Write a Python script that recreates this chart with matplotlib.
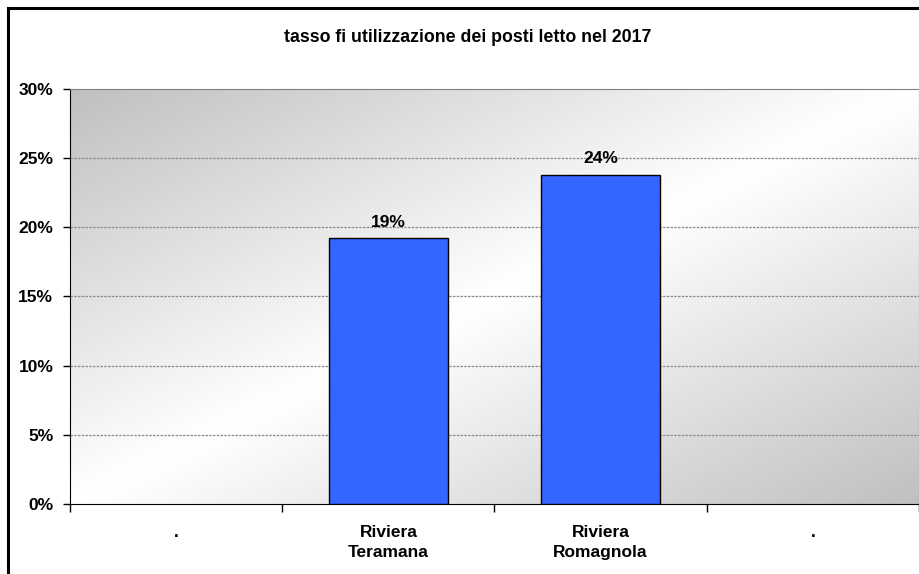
import numpy as np
import matplotlib.pyplot as plt
from matplotlib.lines import Line2D
from matplotlib.ticker import PercentFormatter

# Dati
categorie = ['.', 'Riviera\nTeramana', 'Riviera\nRomagnola', '.']
tasso = [np.nan, 0.192, 0.238, np.nan]  # tasso di utilizzo posti letto
etichette = ['', '19%', '24%', '']

plt.rcParams['font.family'] = ['Liberation Sans', 'DejaVu Sans']
plt.rcParams['font.weight'] = 'bold'

W, H = 920, 574
fig = plt.figure(figsize=(W / 100, H / 100), dpi=100)
ax = fig.add_axes([70 / W, (H - 504) / H, (919 - 70) / W, (504 - 89) / H])

x = np.arange(len(categorie))
ax.set_xlim(-0.5, len(categorie) - 0.5)
ax.set_ylim(0, 0.30)

# sfondo sfumato in diagonale: grigio in alto a sinistra e in basso a destra
u = np.linspace(0, 1, 300)
uu, vv = np.meshgrid(u, u)
s = np.abs((uu + vv) - 1.0)
grigio = 1.0 - 0.25 * s
ax.imshow(grigio, cmap='gray', vmin=0, vmax=1, origin='upper',
          extent=[-0.5, len(categorie) - 0.5, 0, 0.30],
          aspect='auto', zorder=0, interpolation='bilinear')
ax.set_ylim(0, 0.30)

# griglia
for yv in np.arange(0.05, 0.30, 0.05):
    ax.axhline(yv, color='#8a8a8a', lw=0.9, ls=(0, (2, 1)), zorder=1)

barre = ax.bar(x, tasso, width=0.56, color='#3366FF', edgecolor='black', linewidth=1, zorder=3)
for xi, v, t in zip(x, tasso, etichette):
    if t:
        ax.text(xi, v + 0.006, t, ha='center', va='bottom', fontsize=12.5, fontweight='bold', zorder=4)

ax.yaxis.set_major_formatter(PercentFormatter(1.0, decimals=0))
ax.set_yticks(np.arange(0, 0.31, 0.05))
ax.set_xticks(np.arange(-0.5, len(categorie), 1.0))
ax.set_xticklabels([])
ax.set_xticks(x, minor=True)
ax.set_xticklabels(categorie, minor=True, fontsize=12.5, fontweight='bold', linespacing=1.45)
ax.tick_params(axis='x', which='minor', length=0, pad=15)
ax.tick_params(axis='x', which='major', length=6, width=1, direction='out')
ax.tick_params(axis='y', length=5, width=1, direction='out', pad=7, labelsize=12.5)
for lab in ax.get_yticklabels():
    lab.set_fontweight('bold')

ax.spines['left'].set_color('black')
ax.spines['bottom'].set_color('black')
ax.spines['top'].set_color('#808080')
ax.spines['right'].set_color('#808080')

fig.text(468 / W, 1 - 38 / H, 'tasso fi utilizzazione dei posti letto nel 2017',
         ha='center', va='center', fontsize=12.8, fontweight='bold')

# cornice del grafico
fig.add_artist(Line2D([8 / W, 8 / W], [0, 1 - 8 / H], color='black', lw=2.2))
fig.add_artist(Line2D([8 / W, 1], [1 - 8 / H, 1 - 8 / H], color='black', lw=2.2))

fig.savefig('out.png', dpi=100)
